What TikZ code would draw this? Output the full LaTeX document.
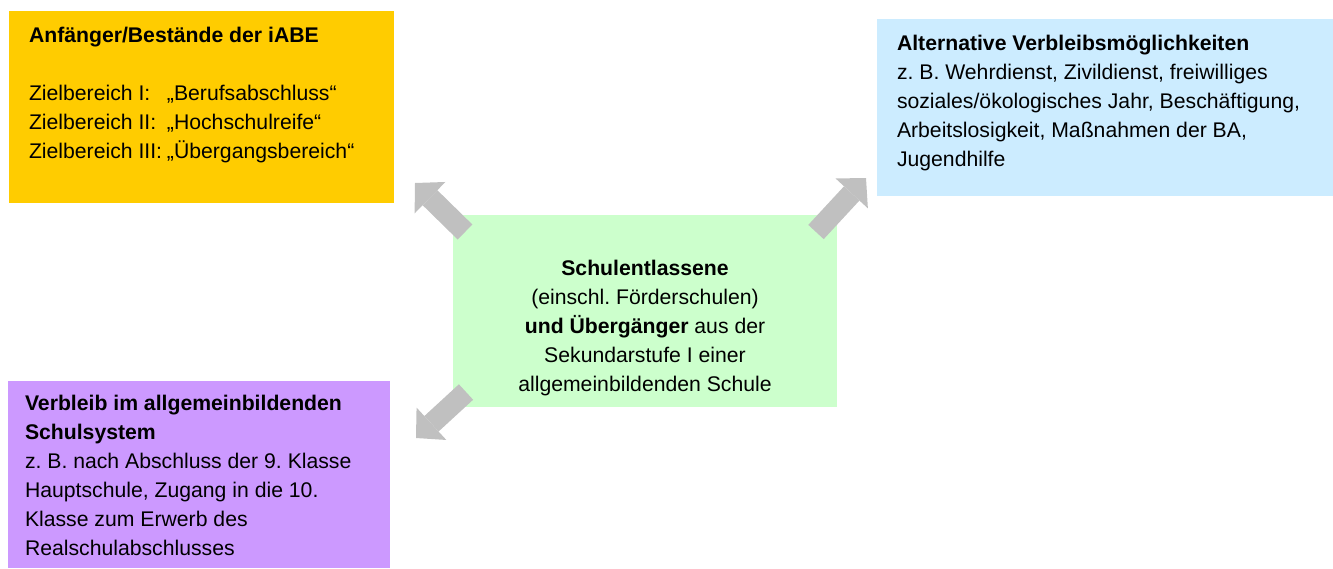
\documentclass[tikz,border=0pt]{standalone}
\usepackage{fontspec}
\setmainfont{Liberation Sans}
\usetikzlibrary{arrows.meta}
\definecolor{yellowbox}{HTML}{FFCC00}
\definecolor{bluebox}{HTML}{CCECFF}
\definecolor{greenbox}{HTML}{CCFFCC}
\definecolor{purplebox}{HTML}{CC99FF}
\definecolor{arrowgray}{HTML}{C0C0C0}
\frenchspacing
\begin{document}
\begin{tikzpicture}[x=1pt,y=-1pt,
  panel/.style={anchor=north west, inner ysep=0pt, inner xsep=20pt, outer sep=0pt,
    font=\fontsize{21.2}{29}\selectfont},
  blockarrow/.style={draw=arrowgray, line width=21pt,
    -{Triangle[length=21pt,width=44pt,line width=0pt]}}]
\useasboundingbox (0,0) rectangle (1333,568);

\node[panel, fill=yellowbox] (anf) at (9,11)
  {\parbox[c][192pt][t]{345pt}{\frenchspacing\raggedright\rule{0pt}{31.6pt}\textbf{Anfänger/Bestände der iABE}\\[29pt]
   \makebox[138pt][l]{Zielbereich I:}„Berufsabschluss“\\
   \makebox[138pt][l]{Zielbereich II:}„Hochschulreife“\\
   \makebox[138pt][l]{Zielbereich III:}„Übergangsbereich“}};

\node[panel, fill=bluebox] (alt) at (877,19)
  {\parbox[c][177pt][t]{416pt}{\frenchspacing\raggedright\rule{0pt}{31.6pt}\textbf{Alternative Verbleibsmöglichkeiten}\\
   z. B. Wehrdienst, Zivildienst, freiwilliges\\
   soziales/ökologisches Jahr, Beschäftigung,\\
   Arbeitslosigkeit, Maßnahmen der BA,\\
   Jugendhilfe}};

\node[panel, fill=greenbox] (schul) at (453,215)
  {\parbox[c][192pt][t]{344pt}{\frenchspacing\centering\rule{0pt}{60.6pt}\textbf{Schulentlassene}\\
   (einschl. Förderschulen)\\
   \textbf{und Übergänger} aus der\\
   Sekundarstufe I einer\\
   allgemeinbildenden Schule}};

\node[panel, fill=purplebox, inner xsep=17pt] (verb) at (8,381)
  {\parbox[c][187pt][t]{348pt}{\frenchspacing\raggedright\rule{0pt}{29.6pt}\textbf{Verbleib im allgemeinbildenden}\\
   \textbf{Schulsystem}\\
   z. B. nach Abschluss der 9. Klasse\\
   Hauptschule, Zugang in die 10.\\
   Klasse zum Erwerb des\\
   Realschulabschlusses}};

\coordinate (t1) at (465,232);
\coordinate (h1) at (415,183);
\coordinate (t2) at (816,232);
\coordinate (h2) at (866,178);
\coordinate (t3) at (466,392);
\coordinate (h3) at (416,438);
\draw[blockarrow] (t1) -- (h1);
\draw[blockarrow] (t2) -- (h2);
\draw[blockarrow] (t3) -- (h3);
\end{tikzpicture}
\end{document}
